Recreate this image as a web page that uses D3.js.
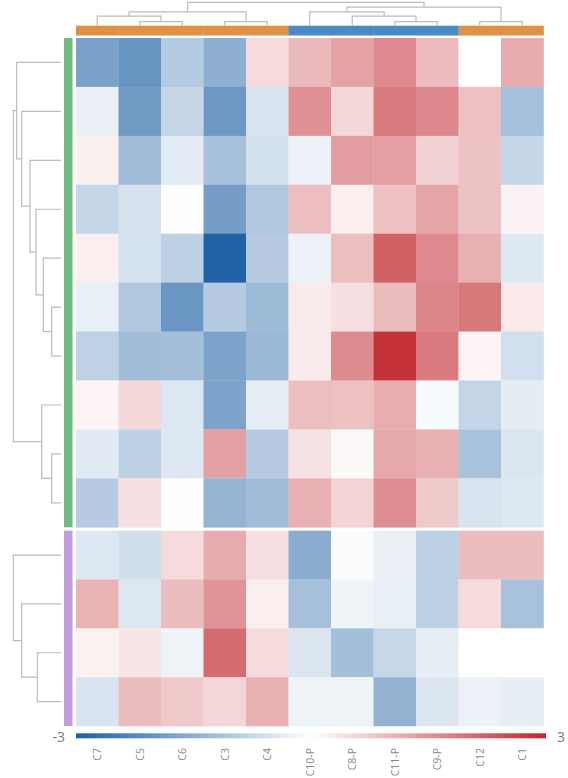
<!DOCTYPE html>
<html>
<head>
<meta charset="utf-8">
<script src="https://cdn.jsdelivr.net/npm/d3@7"></script>
<style>
  body { margin: 0; background: #ffffff; }
  text { font-family: "Open Sans", Roboto, "DejaVu Sans", sans-serif; }
</style>
</head>
<body>
<svg id="chart" width="568" height="778"></svg>
<script>
// ---- data -------------------------------------------------------------
const columns = ["C7", "C5", "C6", "C3", "C4", "C10-P", "C8-P", "C11-P", "C9-P", "C12", "C1"];
const columnGroups = ["A", "A", "A", "A", "A", "B", "B", "B", "B", "A", "A"];
const rowsTop = ["r1", "r2", "r3", "r4", "r5", "r6", "r7", "r8", "r9", "r10"];
const rowsBottom = ["r11", "r12", "r13", "r14"];

// z-scores, one array per row, in column order
const values = {
  r1:  [-1.77, -2.00, -1.00, -1.50,  0.50,  0.96,  1.28,  1.62,  0.93,  0.00,  1.15],
  r2:  [-0.28, -1.88, -0.77, -1.93, -0.53,  1.53,  0.54,  1.83,  1.65,  0.87, -1.19],
  r3:  [ 0.21, -1.23, -0.37, -1.16, -0.60, -0.25,  1.36,  1.32,  0.61,  0.85, -0.76],
  r4:  [-0.76, -0.55, -0.03, -1.83, -1.05,  0.90,  0.24,  0.88,  1.24,  0.85,  0.17],
  r5:  [ 0.24, -0.57, -0.87, -2.95, -0.97, -0.25,  0.90,  2.20,  1.62,  1.10, -0.44],
  r6:  [-0.30, -1.05, -1.97, -0.97, -1.28,  0.28,  0.43,  0.92,  1.69,  1.88,  0.30],
  r7:  [-0.84, -1.25, -1.20, -1.72, -1.32,  0.28,  1.60,  2.85,  1.85,  0.15, -0.60],
  r8:  [ 0.15,  0.55, -0.45, -1.72, -0.33,  0.90,  0.87,  1.14, -0.10, -0.79, -0.35],
  r9:  [-0.40, -0.87, -0.45,  1.30, -0.97,  0.40,  0.08,  1.20,  1.10, -1.15, -0.47],
  r10: [-0.97,  0.43, -0.01, -1.40, -1.25,  1.10,  0.60,  1.58,  0.76, -0.53, -0.44],
  r11: [-0.43, -0.61,  0.50,  1.15,  0.43, -1.56, -0.07, -0.28, -0.87,  0.92,  0.92],
  r12: [ 1.05, -0.45,  0.92,  1.49,  0.24, -1.18, -0.21, -0.30, -0.87,  0.50, -1.15],
  r13: [ 0.20,  0.35, -0.23,  2.06,  0.50, -0.48, -1.20, -0.75, -0.33,  0.00,  0.00],
  r14: [-0.50,  0.92,  0.76,  0.57,  1.10, -0.23, -0.23, -1.42, -0.46, -0.24, -0.32]
};

const colorTicks = [-3, 3];

// hierarchical clustering trees (h = merge height)
const columnTree = { h: 5.6, c: [
  { h: 3.34, c: [
    { h: 2.3, c: ["C7", { h: 1.0, c: ["C5", "C6"] }] },
    { h: 1.0, c: ["C3", "C4"] }
  ] },
  { h: 4.47, c: [
    { h: 3.34, c: ["C10-P", { h: 2.3, c: ["C8-P", { h: 1.0, c: ["C11-P", "C9-P"] }] }] },
    { h: 1.0, c: ["C12", "C1"] }
  ] }
] };

const rowTreeTop = { h: 10, c: [
  { h: 9.29, c: ["r1", { h: 8.24, c: ["r2", { h: 6.5, c: ["r3", { h: 5.24, c: ["r4",
    { h: 3.71, c: ["r5", { h: 1.95, c: ["r6", "r7"] }] }] }] }] }] },
  { h: 4.05, c: ["r8", { h: 1.95, c: ["r9", "r10"] }] }
] };

const rowTreeBottom = { h: 10, c: [
  "r11", { h: 8.24, c: ["r12", { h: 4.97, c: ["r13", "r14"] }] }
] };

// ---- layout -----------------------------------------------------------
const svg = d3.select("#chart");

const heatLeft = 76, heatRight = 543.5;
const topGroup = [38, 527.3];
const bottomGroup = [530.7, 726];

const x = d3.scaleBand().domain(columns).range([heatLeft, heatRight]);
const yTop = d3.scaleBand().domain(rowsTop).range(topGroup);
const yBottom = d3.scaleBand().domain(rowsBottom).range(bottomGroup);

const color = d3.scaleLinear()
  .domain([-3, 0, 3])
  .range(["#1c5fa3", "#ffffff", "#c1272d"])
  .clamp(true);

const groupColor = d3.scaleOrdinal().domain(["A", "B"]).range(["#de9249", "#4a8bc6"]);

// ---- heatmap cells ----------------------------------------------------
function drawCells(rows, yScale) {
  const cells = [];
  rows.forEach(r => values[r].forEach((v, i) => cells.push({ r, col: columns[i], v })));
  svg.append("g")
    .selectAll("rect")
    .data(cells)
    .join("rect")
    .attr("x", d => x(d.col))
    .attr("y", d => yScale(d.r))
    .attr("width", x.bandwidth() + 0.3)
    .attr("height", yScale.bandwidth() + 0.3)
    .attr("fill", d => color(d.v));
}
drawCells(rowsTop, yTop);
drawCells(rowsBottom, yBottom);

// ---- annotation bars --------------------------------------------------
svg.append("g")
  .selectAll("rect")
  .data(columns)
  .join("rect")
  .attr("x", d => x(d))
  .attr("y", 25.7)
  .attr("width", x.bandwidth() + 0.3)
  .attr("height", 9.8)
  .attr("fill", (d, i) => groupColor(columnGroups[i]));

svg.append("rect")
  .attr("x", 64).attr("y", topGroup[0])
  .attr("width", 8.5).attr("height", topGroup[1] - topGroup[0])
  .attr("fill", "#70bb81");
svg.append("rect")
  .attr("x", 64).attr("y", bottomGroup[0])
  .attr("width", 8.5).attr("height", bottomGroup[1] - bottomGroup[0])
  .attr("fill", "#c39ddb");

// ---- dendrograms ------------------------------------------------------
function toHierarchy(tree) {
  return d3.hierarchy(tree, d => (typeof d === "string" ? null : d.c));
}

function drawDendrogram(tree, leafPos, hScale, horizontal) {
  const root = toHierarchy(tree);
  root.eachAfter(n => {
    n.h = typeof n.data === "string" ? 0 : n.data.h;
    n.pos = n.children ? d3.mean(n.children, c => c.pos) : leafPos(n.data);
  });
  const pt = (pos, h) => horizontal ? [hScale(h), pos] : [pos, hScale(h)];
  const line = d3.line();
  svg.append("g")
    .attr("fill", "none")
    .attr("stroke", "#bcbcbc")
    .attr("stroke-width", 1.2)
    .selectAll("path")
    .data(root.descendants().filter(n => n.children))
    .join("path")
    .attr("d", n => {
      const [a, b] = n.children;
      return line([pt(a.pos, a.h), pt(a.pos, n.h), pt(b.pos, n.h), pt(b.pos, b.h)]);
    });
}

const colH = d3.scaleLinear().domain([0, 5.6]).range([25.7, 2.4]);
drawDendrogram(columnTree, c => x(c) + x.bandwidth() / 2, colH, false);

const rowH = d3.scaleLinear().domain([0, 10]).range([61, 13.3]);
drawDendrogram(rowTreeTop, r => yTop(r) + yTop.bandwidth() / 2, rowH, true);
drawDendrogram(rowTreeBottom, r => yBottom(r) + yBottom.bandwidth() / 2, rowH, true);

// ---- colour bar -------------------------------------------------------
const barScale = d3.scaleLinear().domain(colorTicks).range([heatLeft, 546]);
const grad = svg.append("defs").append("linearGradient")
  .attr("id", "cbar").attr("x1", "0%").attr("x2", "100%");
d3.range(-3, 3.01, 0.25).forEach(v => {
  grad.append("stop")
    .attr("offset", ((v + 3) / 6 * 100) + "%")
    .attr("stop-color", color(v));
});
svg.append("rect")
  .attr("x", barScale(-3)).attr("y", 733.3)
  .attr("width", barScale(3) - barScale(-3)).attr("height", 5)
  .attr("fill", "url(#cbar)");

svg.append("text")
  .attr("x", barScale(-3) - 11).attr("y", 736)
  .attr("text-anchor", "end").attr("dominant-baseline", "central")
  .attr("font-size", 14).attr("fill", "#7a7a7a")
  .text(colorTicks[0]);
svg.append("text")
  .attr("x", barScale(3) + 11).attr("y", 736)
  .attr("text-anchor", "start").attr("dominant-baseline", "central")
  .attr("font-size", 14).attr("fill", "#7a7a7a")
  .text(colorTicks[1]);

// ---- column labels ----------------------------------------------------
svg.append("g")
  .selectAll("text")
  .data(columns)
  .join("text")
  .attr("transform", d => `translate(${x(d) + x.bandwidth() / 2},748) rotate(-90)`)
  .attr("text-anchor", "end")
  .attr("dominant-baseline", "central")
  .attr("font-size", 10.5)
  .attr("fill", "#8a8a8a")
  .text(d => d);
</script>
</body>
</html>
